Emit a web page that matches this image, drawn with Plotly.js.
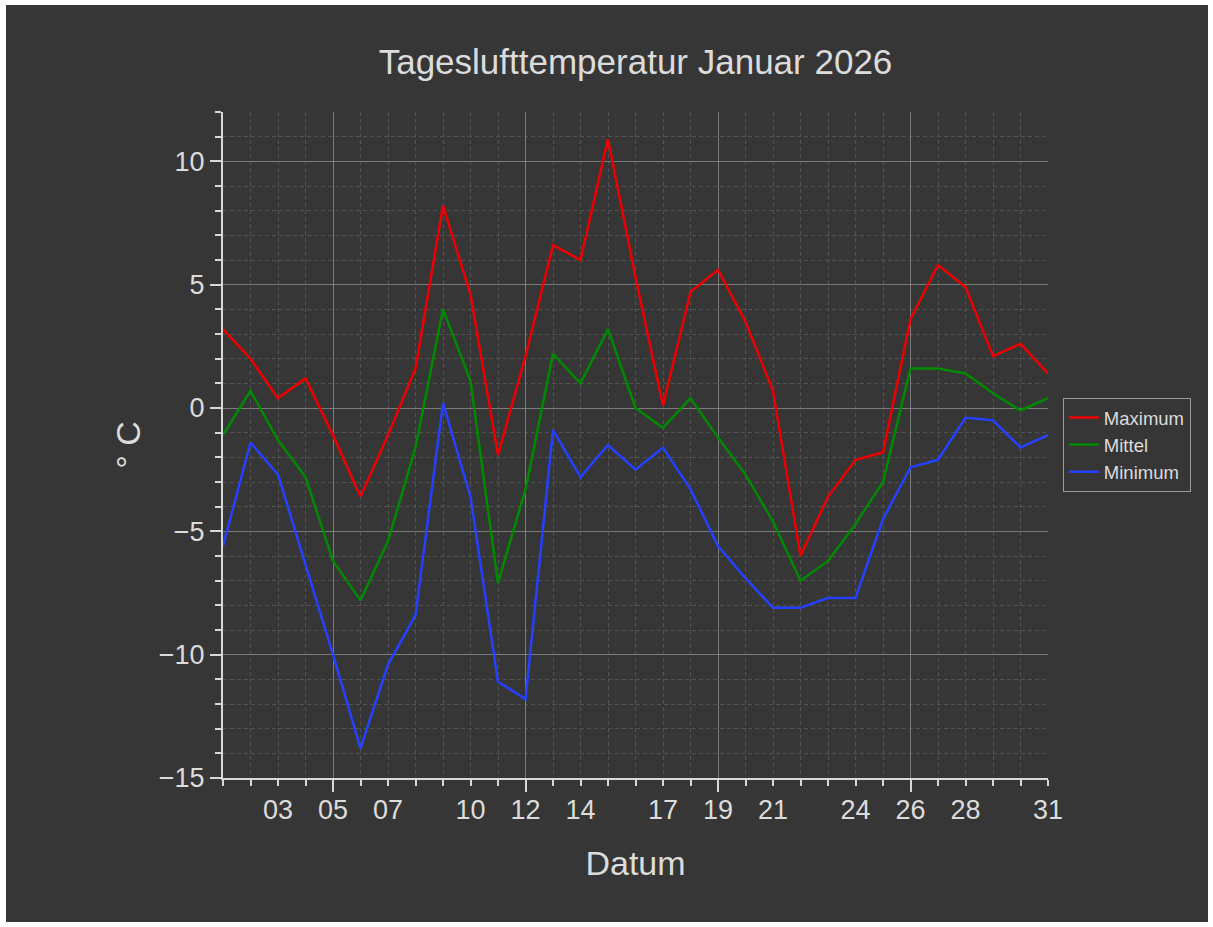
<!DOCTYPE html>
<html>
<head>
<meta charset="utf-8">
<script src="https://cdn.plot.ly/plotly-3.0.1.min.js"></script>
<style>
html, body { margin: 0; padding: 0; background: #ffffff; width: 1213px; height: 927px; overflow: hidden; }
#chart { position: absolute; left: 6px; top: 5px; width: 1202px; height: 917px; }
</style>
</head>
<body>
<div id="chart"></div>
<script>
// Days of January 2026
const days = [
  '2026-01-01','2026-01-02','2026-01-03','2026-01-04','2026-01-05','2026-01-06','2026-01-07',
  '2026-01-08','2026-01-09','2026-01-10','2026-01-11','2026-01-12','2026-01-13','2026-01-14',
  '2026-01-15','2026-01-16','2026-01-17','2026-01-18','2026-01-19','2026-01-20','2026-01-21',
  '2026-01-22','2026-01-23','2026-01-24','2026-01-25','2026-01-26','2026-01-27','2026-01-28',
  '2026-01-29','2026-01-30','2026-01-31'
];
const maximum = [3.2, 2.0, 0.4, 1.2, -1.1, -3.6, -1.1, 1.6, 8.2, 4.6, -1.9, 2.1, 6.6, 6.0, 10.9, 5.3,
                 0.1, 4.7, 5.6, 3.5, 0.7, -6.0, -3.6, -2.1, -1.8, 3.6, 5.8, 4.9, 2.1, 2.6, 1.4];
const mittel  = [-1.1, 0.7, -1.3, -2.8, -6.2, -7.8, -5.4, -1.6, 4.0, 1.1, -7.1, -3.3, 2.2, 1.0, 3.2, 0.0,
                 -0.8, 0.4, -1.2, -2.7, -4.6, -7.0, -6.2, -4.7, -3.0, 1.6, 1.6, 1.4, 0.6, -0.1, 0.4];
const minimum = [-5.6, -1.4, -2.7, -6.3, -10.0, -13.8, -10.4, -8.4, 0.2, -3.6, -11.1, -11.8, -0.9, -2.8, -1.5, -2.5,
                 -1.6, -3.3, -5.6, -6.9, -8.1, -8.1, -7.7, -7.7, -4.5, -2.4, -2.1, -0.4, -0.5, -1.6, -1.1];
const seriesNames = ['Maximum', 'Mittel', 'Minimum'];
const labelDays = ['2026-01-03','2026-01-05','2026-01-07','2026-01-10','2026-01-12','2026-01-14',
                   '2026-01-17','2026-01-19','2026-01-21','2026-01-24','2026-01-26','2026-01-28','2026-01-31'];
const weekDays = ['2026-01-05','2026-01-12','2026-01-19','2026-01-26'];

const txt = '#dcdcdc';
const axisCol = '#d8d8d8';
const bg = '#363636';
const fontFam = '"Liberation Sans", Arial, sans-serif';

const traces = [
  {x: days, y: maximum, name: seriesNames[0], mode: 'lines', line: {color: '#ee0000', width: 2.5}},
  {x: days, y: mittel,  name: seriesNames[1], mode: 'lines', line: {color: '#008a00', width: 2.5}},
  {x: days, y: minimum, name: seriesNames[2], mode: 'lines', line: {color: '#2540ff', width: 2.5}},
  {x: [], y: [], xaxis: 'x2', yaxis: 'y', showlegend: false, hoverinfo: 'skip', mode: 'lines'}
];

const layout = {
  width: 1202, height: 917,
  margin: {l: 217, r: 160, t: 107, b: 144},
  paper_bgcolor: bg, plot_bgcolor: bg,
  font: {family: fontFam, color: txt},
  title: {text: 'Tageslufttemperatur Januar 2026', font: {size: 35, color: txt, family: fontFam},
          x: 0.5, xref: 'paper', xanchor: 'center', y: 1 - 57/917, yref: 'container', yanchor: 'middle'},
  xaxis: {
    type: 'date', range: ['2026-01-01', '2026-01-31'],
    tickmode: 'array', tickvals: weekDays, showticklabels: false,
    ticks: 'outside', ticklen: 12, tickwidth: 2, tickcolor: axisCol,
    showline: true, linecolor: axisCol, linewidth: 2,
    showgrid: true, gridcolor: '#7a7a7a', gridwidth: 1,
    zeroline: false,
    minor: {dtick: 86400000, tick0: '2026-01-01', ticks: 'outside', ticklen: 6, tickwidth: 2, tickcolor: axisCol,
            showgrid: true, gridcolor: '#525252', griddash: '4px,3px', gridwidth: 1},
    title: {text: 'Datum', font: {size: 34, color: txt, family: fontFam}, standoff: 60},
    automargin: false, fixedrange: true
  },
  xaxis2: {
    type: 'date', overlaying: 'x', anchor: 'y', side: 'bottom',
    range: ['2026-01-01', '2026-01-31'],
    tickmode: 'array', tickvals: labelDays, tickformat: '%d',
    ticks: '', showgrid: false, showline: false, zeroline: false,
    tickfont: {size: 27, color: txt, family: fontFam},
    ticklabelstandoff: 13,
    automargin: false, fixedrange: true
  },
  yaxis: {
    range: [-15, 12], tickmode: 'linear', tick0: 0, dtick: 5,
    ticks: 'outside', ticklen: 11, tickwidth: 2, tickcolor: axisCol,
    showline: true, linecolor: axisCol, linewidth: 2,
    showgrid: true, gridcolor: '#7a7a7a', gridwidth: 1,
    zeroline: false,
    tickfont: {size: 27, color: txt, family: fontFam},
    minor: {dtick: 1, ticks: 'outside', ticklen: 6, tickwidth: 2, tickcolor: axisCol,
            showgrid: true, gridcolor: '#525252', griddash: '4px,3px', gridwidth: 1},
    title: {text: '° C', font: {size: 34, color: txt, family: fontFam}, standoff: 8},
    automargin: false, fixedrange: true
  },
  showlegend: true,
  legend: {
    x: 1.018, xanchor: 'left', y: 0.5, yanchor: 'middle',
    bgcolor: bg, bordercolor: '#9a9a9a', borderwidth: 1,
    font: {size: 18.5, color: txt, family: fontFam},
    tracegroupgap: 0
  }
};

Plotly.newPlot('chart', traces, layout, {displayModeBar: false, staticPlot: true});
</script>
</body>
</html>
